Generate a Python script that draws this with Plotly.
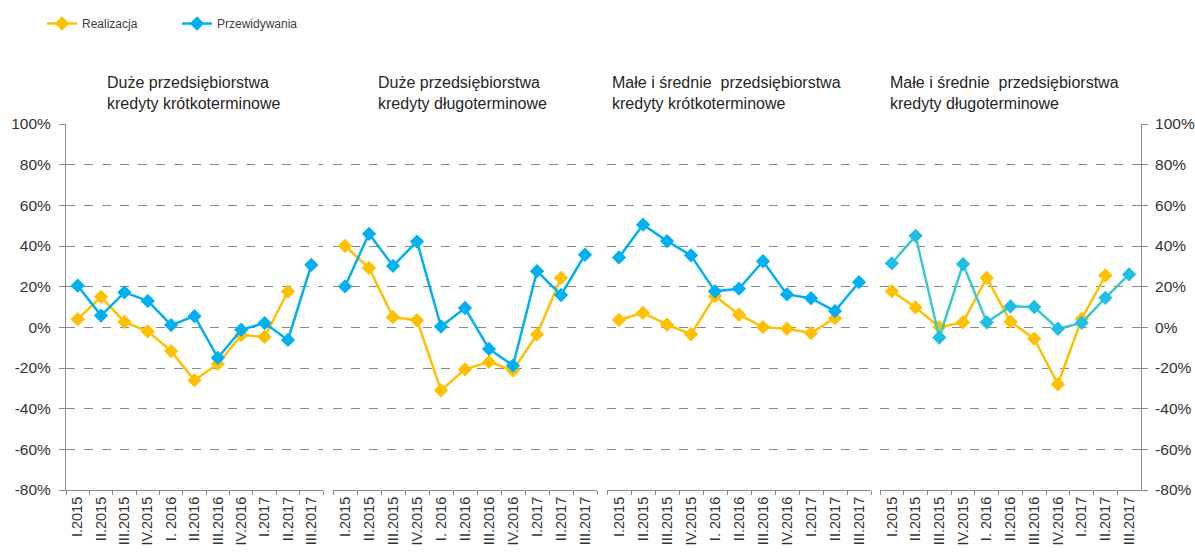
import plotly.graph_objects as go

categories = ["I.2015", "II.2015", "III.2015", "IV.2015", "I. 2016", "II.2016",
              "III.2016", "IV.2016", "I.2017", "II.2017", "III.2017"]

titles = [
    "Duże przedsiębiorstwa<br>kredyty krótkoterminowe",
    "Duże przedsiębiorstwa<br>kredyty długoterminowe",
    "Małe i średnie \u00a0przedsiębiorstwa<br>kredyty krótkoterminowe",
    "Małe i średnie \u00a0przedsiębiorstwa<br>kredyty długoterminowe",
]

real_1 = [4, 15, 2.7, -2, -11.7, -26, -18, -3.8, -4.7, 17.6, None]
pred_1 = [20.5, 5.8, 17.2, 13, 1.1, 5.5, -15, -1.2, 2.1, -6.2, 30.7]

real_2 = [40, 29.2, 5, 3.5, -31, -20.7, -17, -21.2, -3.5, 24.3, None]
pred_2 = [20.1, 46, 30.2, 42.2, 0.4, 9.5, -10.6, -18.8, 27.6, 15.9, 35.7]

real_3 = [3.6, 7.1, 1.3, -3.4, 15.4, 6.2, 0.1, -0.7, -2.8, 4.5, None]
pred_3 = [34.4, 50.5, 42.4, 35.4, 17.7, 19, 32.5, 16.2, 14.3, 8, 22.2]

real_4 = [17.8, 9.8, 0.1, 2.5, 24.3, 2.8, -5.6, -28, 4.1, 25.5, None]
pred_4 = [31.5, 45, -5, 31.1, 2.5, 10.3, 10, -0.7, 2.2, 14.5, 26]

y_ticks = [-80, -60, -40, -20, 0, 20, 40, 60, 80, 100]

W, H = 1195, 553
YELLOW = "#FFC000"
BLUE = "#00B0F0"
TEAL_LINE = "#3CC8CC"
TEAL_MARK = "#1FBFE4"

panels_px = [(66, 323), (333, 597), (607, 871), (880, 1141)]
title_x = [105, 376, 610, 888]
y_dom = [(H - 490) / H, (H - 124) / H]

reals = [real_1, real_2, real_3, real_4]
preds = [pred_1, pred_2, pred_3, pred_4]

fig = go.Figure()
FONT = "Liberation Sans, Arial, sans-serif"

for i in range(4):
    xa = "x" if i == 0 else f"x{i+1}"
    ya = "y" if i == 0 else f"y{i+1}"
    pc_line = TEAL_LINE if i == 3 else BLUE
    pc_mark = TEAL_MARK if i == 3 else BLUE
    fig.add_trace(go.Scatter(
        x=categories, y=reals[i], xaxis=xa, yaxis=ya, mode="lines+markers",
        name="Realizacja", legendgroup="r", showlegend=(i == 0),
        line=dict(color=YELLOW, width=2.5),
        marker=dict(symbol="diamond", size=11, color=YELLOW),
        connectgaps=False,
    ))
    fig.add_trace(go.Scatter(
        x=categories, y=preds[i], xaxis=xa, yaxis=ya, mode="lines+markers",
        name="Przewidywania", legendgroup="p", showlegend=(i == 0),
        line=dict(color=pc_line, width=2.5),
        marker=dict(symbol="diamond", size=11, color=pc_mark),
    ))

layout = dict(
    width=W, height=H,
    margin=dict(l=0, r=0, t=0, b=0),
    paper_bgcolor="white", plot_bgcolor="white",
    font=dict(family=FONT, color="#333333"),
    legend=dict(orientation="h", x=42 / W, y=1 - 9 / H, xanchor="left", yanchor="top",
                font=dict(size=12, color="#404040"), bgcolor="rgba(0,0,0,0)",
                entrywidth=90, entrywidthmode="pixels"),
    showlegend=True,
)

for i in range(4):
    xkey = "xaxis" if i == 0 else f"xaxis{i+1}"
    ykey = "yaxis" if i == 0 else f"yaxis{i+1}"
    xa_ref = "x" if i == 0 else f"x{i+1}"
    ya_ref = "y" if i == 0 else f"y{i+1}"
    x0, x1 = panels_px[i]
    layout[xkey] = dict(
        domain=[x0 / W, x1 / W], anchor=ya_ref, type="category",
        categoryorder="array", categoryarray=categories,
        range=[-0.5, len(categories) - 0.5],
        showline=True, linecolor="#8c8c8c", linewidth=1,
        ticks="outside", tickson="boundaries", ticklen=4, tickcolor="#8c8c8c",
        tickangle=-90, tickfont=dict(size=14.5, color="#333333", family=FONT),
        ticklabelstandoff=0,
        showgrid=False, zeroline=False, automargin=False, fixedrange=True,
    )
    ydict = dict(
        domain=list(y_dom), anchor=xa_ref, range=[-80, 100],
        tickvals=y_ticks, ticktext=[f"{v}%" for v in y_ticks],
        showgrid=True, gridcolor="#8a8a8a", griddash="dash", gridwidth=1,
        zeroline=False, automargin=False, fixedrange=True,
        tickfont=dict(size=15.5, color="#333333", family=FONT),
    )
    if i == 0:
        ydict.update(showline=True, linecolor="#8c8c8c", linewidth=1,
                     ticks="outside", ticklen=6, tickcolor="#8c8c8c",
                     showticklabels=True, side="left", ticklabelstandoff=5)
    elif i == 3:
        ydict.update(showline=True, linecolor="#8c8c8c", linewidth=1,
                     ticks="outside", ticklen=6, tickcolor="#8c8c8c",
                     showticklabels=True, side="right", ticklabelstandoff=4)
    else:
        ydict.update(showline=False, ticks="", showticklabels=False)
    layout[ykey] = ydict

annotations = []
for i in range(4):
    annotations.append(dict(
        text=titles[i], xref="paper", yref="paper",
        x=title_x[i] / W, y=1 - 72 / H, xanchor="left", yanchor="top",
        align="left", showarrow=False,
        font=dict(size=16, color="#262626", family=FONT),
    ))
layout["annotations"] = annotations

fig.update_layout(**layout)
fig.write_html("out.html")
